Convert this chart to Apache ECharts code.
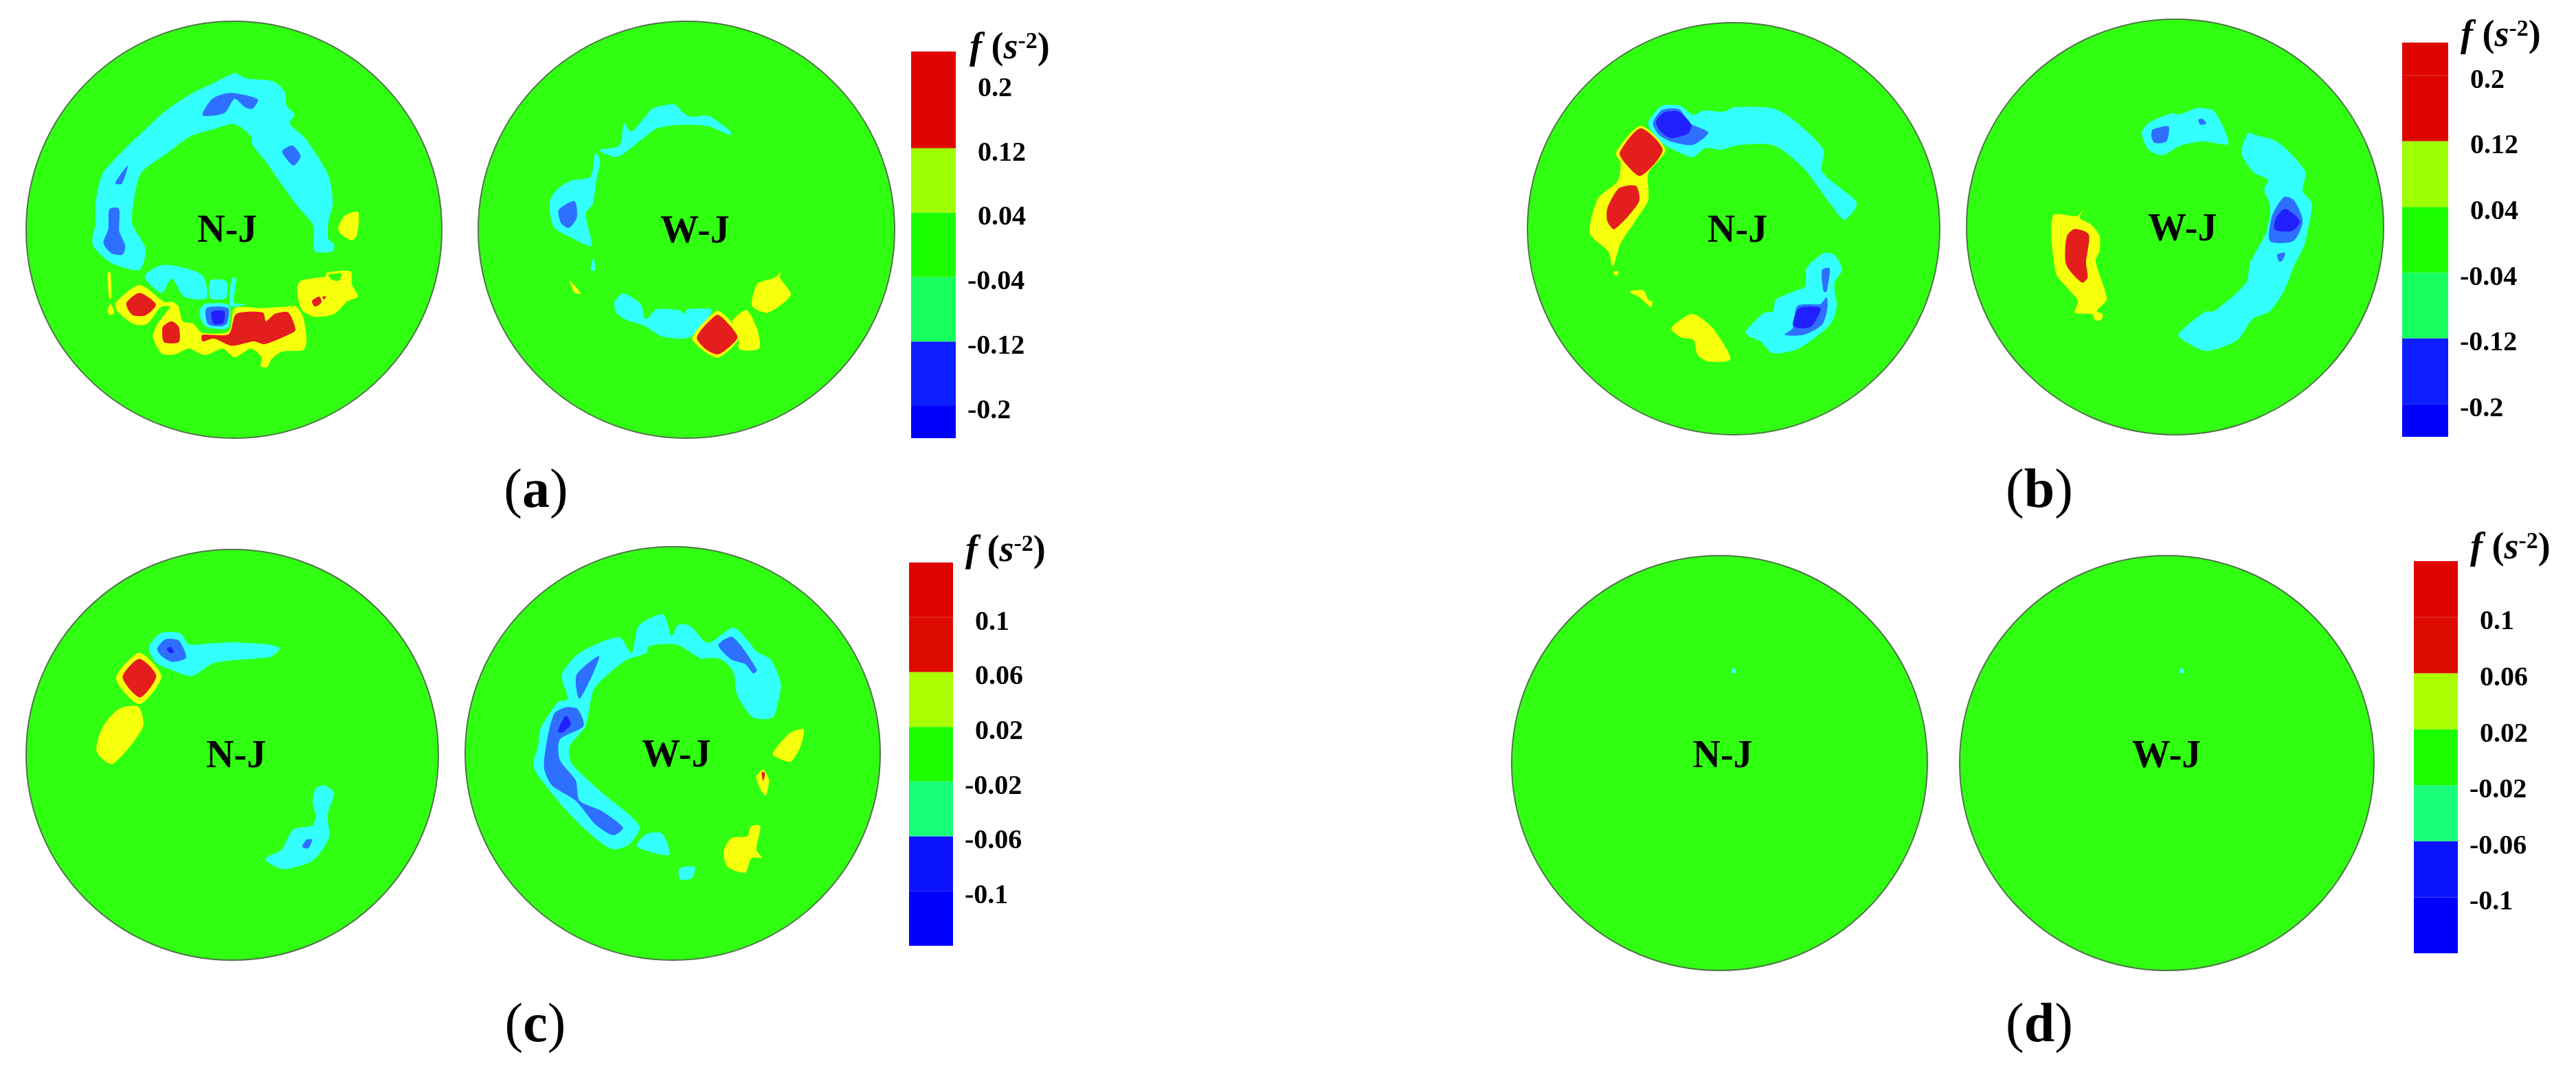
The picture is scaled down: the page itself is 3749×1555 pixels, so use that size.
<!DOCTYPE html>
<html><head><meta charset="utf-8">
<style>html,body{margin:0;padding:0;background:#fff}#c{width:3749px;height:1555px}</style>
<script src="https://cdn.jsdelivr.net/npm/echarts@6/dist/echarts.min.js"></script>
</head><body><div id="c"></div>
<script>
// Contour bands: -3 deep blue, -2 mid blue, -1 cyan, 0 background, 1 yellow, 2 red
// Outlines are traced in each disc's own local scale.
const aNJ = [
[-1,[470,932,375,908,312,845,322,770,322,700,345,600,400,535,480,455,560,380,640,325,720,285,790,252,830,270,920,280,958,315,965,365,992,395,975,425,1030,480,1105,605,1120,700,1105,770,1105,825,1125,845,1120,868,1060,868,1055,780,1000,710,940,625,900,565,850,500,845,470,790,428,720,445,640,470,560,530,480,590,460,640,445,770,490,860]],
[-2,[682,397,715,340,775,320,868,342,850,375,825,370,790,340,755,390]],
[-2,[950,520,985,502,1012,540,988,572,958,540]],
[-2,[388,632,430,572,410,635]],
[-2,[368,722,400,720,402,800,422,850,412,880,375,875,348,840,365,790]],
[-1,[487,955,552,915,680,950,695,1030,620,1025,578,962,545,1012]],
[-1,[708,970,762,972,760,1030,708,1030]],
[-1,[780,962,795,962,788,1045,825,1052,775,1058]],
[1,[362,942,372,942,375,1030,368,1030]],
[1,[362,1075,372,1050,385,1082,370,1088]],
[1,[388,1048,470,985,555,1045,578,1042,600,1058,615,1110,650,1118,680,1150,770,1145,790,1065,880,1065,960,1060,995,1058,1020,1095,1032,1180,1020,1210,950,1215,915,1240,900,1268,878,1268,880,1235,845,1205,790,1235,750,1205,690,1228,635,1205,590,1225,545,1222,515,1165,530,1120,572,1060,540,1062,495,1120,450,1120,395,1075]],
[-1,[672,1070,690,1050,770,1055,770,1130,750,1138,695,1130,675,1100]],
[-2,[695,1065,768,1065,765,1115,745,1128,700,1120]],
[-3,[712,1078,755,1075,752,1115,720,1120]],
[2,[425,1048,470,1012,525,1052,490,1090,445,1088]],
[2,[548,1130,578,1110,602,1130,602,1182,552,1182]],
[2,[680,1158,770,1155,795,1085,885,1080,895,1110,925,1085,970,1080,995,1140,975,1155,890,1190,855,1180,780,1195,720,1170,682,1180]],
[1,[1000,1000,1012,970,1095,955,1100,942,1180,938,1185,985,1205,1025,1170,1040,1125,1085,1060,1095,1015,1070]],
[0,[1105,950,1150,945,1140,970,1115,965]],
[2,[1050,1040,1075,1025,1082,1045,1060,1060]],
[2,[1085,1025,1098,1025,1090,1035]],
[1,[1138,790,1160,745,1205,732,1202,810,1185,830,1150,810]]
];
const aWJ = [
[-1,[335,450,385,437,398,370,415,395,455,345,470,325,525,313,545,335,565,350,612,348,668,395,665,405,610,378,530,375,480,385,440,420,380,470]],
[-1,[325,458,337,480,328,535,318,610,300,640,315,735,265,712,220,680,208,610,225,570,265,540,312,530]],
[-2,[232,628,272,602,278,650,258,682,238,668]],
[-1,[320,770,325,808,313,808]],
[1,[260,840,288,878,272,875]],
[-1,[373,905,395,877,440,910,452,955,480,925,540,928,550,940,558,925,620,928,570,1005,540,1013,490,1005,450,975,400,955,378,935]],
[1,[672,960,708,928,735,985,740,1042,690,1045,688,1005]],
[1,[570,1010,632,930,660,950,690,1005,670,1040,635,1070,600,1050]],
[2,[582,1008,632,942,655,960,685,1008,662,1040,635,1060,605,1045]],
[1,[722,915,735,850,780,830,795,815,792,830,820,882,762,935]]
];
const bNJ = [
[-1,[445,365,488,318,550,318,590,345,625,332,690,335,725,322,850,325,920,362,1015,450,1010,515,1122,605,1115,630,1082,660,1040,615,950,505,855,437,740,435,680,450,630,445,590,472,540,455,490,430,450,385]],
[-2,[460,370,490,330,545,328,580,370,640,398,590,435,520,425,480,405]],
[-3,[470,365,495,338,545,335,585,375,575,400,520,415,485,395]],
[1,[340,458,420,378,500,450,445,520,445,600,405,660,355,730,330,800,315,755,255,700,282,595,345,545,355,490]],
[2,[352,458,420,385,492,450,420,528,370,490]],
[2,[312,625,350,565,405,558,415,605,335,688,312,665]],
[1,[332,815,348,815,345,826,336,826]],
[1,[385,875,430,872,445,900,458,905,455,922,440,912,420,895]],
[1,[520,985,575,945,600,945,655,985,712,1078,640,1085,605,1065,592,1020,550,1012]],
[-1,[762,995,820,940,850,935,860,900,930,870,955,860,960,805,1015,760,1050,765,1075,810,1050,850,1058,920,1040,970,985,1015,925,1050,850,1060,810,1025,770,1008]],
[-2,[1010,810,1035,805,1025,875,1015,875]],
[-2,[888,1005,915,985,930,918,1005,912,1025,892,1028,925,1010,975,950,1005]],
[-3,[915,975,935,925,1005,925,975,980,935,985]]
];
const bWJ = [
[-1,[478,400,495,370,555,340,570,345,620,325,660,335,695,432,630,425,575,438,530,467,495,450]],
[-2,[505,390,545,380,540,425,510,430,502,410]],
[-2,[620,360,630,357,640,372,625,375]],
[-1,[745,400,760,405,820,428,888,515,882,575,905,610,895,690,885,740,860,800,835,875,800,935,755,960,718,1022,640,1055,585,1025,570,1005,635,938,660,935,740,850,750,790,790,700,800,620,785,570,795,540,760,520,728,460]],
[-2,[800,725,805,650,835,592,860,602,882,665,858,725]],
[-3,[812,690,815,655,838,628,875,665,855,695]],
[-2,[818,765,838,760,830,785,822,785]],
[1,[255,648,315,650,332,630,322,655,350,675,372,710,372,755,362,785,390,900,365,935,380,945,375,962,360,962,355,945,310,940,318,905,298,875,262,820]],
[2,[290,710,310,688,345,705,338,790,342,835,328,850,288,795]]
];
const cNJ = [
[-1,[500,365,540,318,605,318,635,355,700,352,780,348,900,355,940,368,910,395,870,400,720,415,645,458,580,440,525,415]],
[-2,[528,370,555,338,600,342,625,398,580,412,545,395]],
[-3,[560,370,572,362,585,380,570,382]],
[1,[390,465,468,382,542,460,468,550]],
[2,[412,462,468,402,525,458,470,528]],
[1,[325,705,345,625,400,565,465,558,480,625,378,745]],
[-1,[890,1055,945,1025,985,958,1050,945,1060,915,1050,870,1060,825,1090,815,1122,840,1100,910,1105,985,1050,1060,950,1088]],
[-2,[1015,1015,1030,992,1048,992,1035,1020]]
];
const cWJ = [
[-1,[203,680,215,620,220,570,265,490,290,480,275,410,320,345,420,298,452,345,470,265,532,232,553,295,570,262,600,265,645,315,710,270,748,310,768,340,805,365,830,435,825,480,810,535,760,535,720,470,710,400,680,365,650,360,628,362,565,320,495,325,490,345,440,365,390,410,355,455,335,560,295,620,300,670,370,750,472,855,445,910,400,922,330,860,265,780]],
[-2,[230,685,235,620,255,525,285,505,315,510,330,560,270,600,270,660,310,720,320,780,375,810,430,860,405,882,360,850,310,780,250,735]],
[-3,[265,575,285,530,298,555,275,580]],
[-2,[312,410,370,355,320,480]],
[-2,[672,322,708,298,770,395,760,405,740,378,705,365]],
[-1,[465,915,490,878,530,878,547,940]],
[-1,[573,980,612,975,605,1008,575,1012]],
[1,[810,645,820,622,855,580,888,570,880,620,855,665]],
[1,[768,710,785,688,800,720,792,765,780,750]],
[2,[782,695,790,700,785,722]],
[1,[685,930,705,890,745,885,755,855,778,855,768,925,782,948,755,950,740,992,695,975]]
];
const dNJ = [[-1,[340,392,346,392,346,403,340,403]]];
const dWJ = [[-1,[992,392,998,392,998,403,992,403]]];

const bandColors = {'-3':'#2020ff','-2':'#2f6fff','-1':'#33ffff','0':'#31ff12','1':'#f6ff0c','2':'#e31e1c'};
const discGreen = '#31ff12';
const discEdge = '#4f7548';

// colour bars: band edges (bottom to top), their colours, and tick labels
const barEdgesAB = [-0.24,-0.2,-0.12,-0.04,0.04,0.12,0.2,0.24];
const barTicksAB = [-0.2,-0.12,-0.04,0.04,0.12,0.2];
const barEdgesCD = [-0.14,-0.1,-0.06,-0.02,0.02,0.06,0.1,0.14];
const barTicksCD = [-0.1,-0.06,-0.02,0.02,0.06,0.1];
const barColorsAB = ['#0000ff','#0c1eff','#17ff5f','#1cff00','#9eff00','#df0400','#df0400'];
const barColorsCD = ['#0000ff','#0c14ff','#1aff78','#1cff00','#aaff00','#de0c00','#df0400'];

const discLabels = ['N-J','W-J'];
const panelLetters = ['a','b','c','d'];

// canvas box of each disc, and the local scale each outline is traced in
const discs = [
 {polys:aNJ,box:[38,31,605,607],sx:[88,1487],sy:[72,1515],name:0,lab:[765,800]},
 {polys:aWJ,box:[696,31,606,607],sx:[28,1083],sy:[65,1310],name:1,lab:[577,695]},
 {polys:bNJ,box:[2223,33,600,600],sx:[52,1393],sy:[68,1305],name:0,lab:[735,695]},
 {polys:bWJ,box:[2862,28,607,605],sx:[38,1085],sy:[58,1307],name:1,lab:[580,692]},
 {polys:cNJ,box:[38,800,600,598],sx:[88,1472],sy:[45,1385],name:0,lab:[793,722]},
 {polys:cWJ,box:[677,796,604,602],sx:[30,1082],sy:[32,1250],name:1,lab:[565,650]},
 {polys:dNJ,box:[2200,809,605,604],sx:[20,625],sy:[58,1280],name:0,lab:[327,652]},
 {polys:dWJ,box:[2852,809,603,604],sx:[672,1275],sy:[58,1280],name:1,lab:[973,652]}
];
const bars = [
 {box:[1326,75,65,563],edges:barEdgesAB,ticks:barTicksAB,colors:barColorsAB},
 {box:[3496,62,67,574],edges:barEdgesAB,ticks:barTicksAB,colors:barColorsAB},
 {box:[1323,819,64,558],edges:barEdgesCD,ticks:barTicksCD,colors:barColorsCD},
 {box:[3513,817,64,571],edges:barEdgesCD,ticks:barTicksCD,colors:barColorsCD}
];
const barTitles = [[1406,39],[3576,21],[1400,771],[3590,767]];
const panelPos = [[775,712],[2963,712],[774,1490],[2963,1490]];

const grid=[],xAxis=[],yAxis=[],series=[],title=[];
const FONT='"Liberation Serif","Times New Roman",serif';
const rt=(size,weight,style,extra)=>Object.assign({fontFamily:FONT,fontSize:size,fontWeight:weight,fontStyle:style,color:'#000'},extra||{});

discs.forEach((d,i)=>{
  grid.push({left:d.box[0],top:d.box[1],width:d.box[2],height:d.box[3],show:false});
  xAxis.push({type:'value',gridIndex:i,min:d.sx[0],max:d.sx[1],show:false});
  yAxis.push({type:'value',gridIndex:i,min:d.sy[0],max:d.sy[1],inverse:true,show:false});
  const cx=(d.sx[0]+d.sx[1])/2, cy=(d.sy[0]+d.sy[1])/2;
  series.push({type:'custom',xAxisIndex:i,yAxisIndex:i,silent:true,clip:false,z:1,data:[[cx,cy]],
    renderItem:(p,api)=>{
      const c=api.coord([api.value(0),api.value(1)]);
      const s=api.size([d.sx[1]-d.sx[0],d.sy[1]-d.sy[0]]);
      return {type:'ellipse',shape:{cx:c[0],cy:c[1],rx:s[0]/2,ry:s[1]/2},
        style:{fill:discGreen,stroke:discEdge,lineWidth:2}};
    }});
  series.push({type:'custom',xAxisIndex:i,yAxisIndex:i,silent:true,clip:false,z:2,
    data:d.polys.map(p=>[p[1][0],p[1][1],p[0]]),
    renderItem:(p,api)=>{
      const poly=d.polys[p.dataIndex], f=poly[1], pts=[];
      for(let k=0;k<f.length;k+=2) pts.push(api.coord([f[k],f[k+1]]));
      return {type:'polygon',shape:{points:pts,smooth:0.25},style:{fill:bandColors[poly[0]]}};
    }});
  series.push({type:'custom',xAxisIndex:i,yAxisIndex:i,silent:true,clip:false,z:3,
    data:[[d.lab[0],d.lab[1]]],
    renderItem:(p,api)=>{
      const c=api.coord([api.value(0),api.value(1)]);
      return {type:'text',x:c[0],y:c[1],style:{text:discLabels[d.name],fill:'#000',
        font:'bold 56px '+FONT,textAlign:'center',textVerticalAlign:'middle'}};
    }});
});

bars.forEach((b,j)=>{
  const i=discs.length+j;
  grid.push({left:b.box[0],top:b.box[1],width:b.box[2],height:b.box[3],show:false});
  xAxis.push({type:'value',gridIndex:i,min:0,max:1,show:false});
  yAxis.push({type:'value',gridIndex:i,position:'right',min:b.edges[0],max:b.edges[b.edges.length-1],
    axisLine:{show:false},axisTick:{show:false},splitLine:{show:false},
    axisLabel:{show:true,customValues:b.ticks,margin:17,padding:[15,0,0,0],
      formatter:v=>v<0?'{t|'+v+'}':'{p|}{t|'+v+'}',
      rich:{p:{width:15},t:rt(40,'bold','normal')}}});
  series.push({type:'custom',xAxisIndex:i,yAxisIndex:i,silent:true,z:2,
    data:b.colors.map((c,k)=>[0,b.edges[k],1,b.edges[k+1]]),
    renderItem:(p,api)=>{
      const a=api.coord([api.value(0),api.value(3)]), e=api.coord([api.value(2),api.value(1)]);
      return {type:'rect',shape:{x:a[0],y:a[1],width:e[0]-a[0],height:e[1]-a[1]},
        style:{fill:b.colors[p.dataIndex]}};
    }});
  title.push({left:barTitles[j][0],top:barTitles[j][1],
    text:'{f|f}{g| (}{s|s}{e|-2}{g|)}',
    textStyle:{rich:{
      f:rt(54,'bold','italic'),
      g:rt(54,'bold','normal'),
      s:rt(54,'bold','italic'),
      e:rt(34,'bold','normal',{verticalAlign:'top'})}}});
});

panelLetters.forEach((l,j)=>{
  title.push({left:panelPos[j][0],top:panelPos[j][1],textAlign:'center',textVerticalAlign:'middle',
    text:'{p|(}{b|'+l+'}{p|)}',
    textStyle:{rich:{p:rt(80,'normal','normal'),b:rt(80,'bold','normal')}}});
});

const chart=echarts.init(document.getElementById('c'),null,{renderer:'canvas'});
chart.setOption({animation:false,backgroundColor:'#fff',title,grid,xAxis,yAxis,series,tooltip:{show:false}});
</script></body></html>
